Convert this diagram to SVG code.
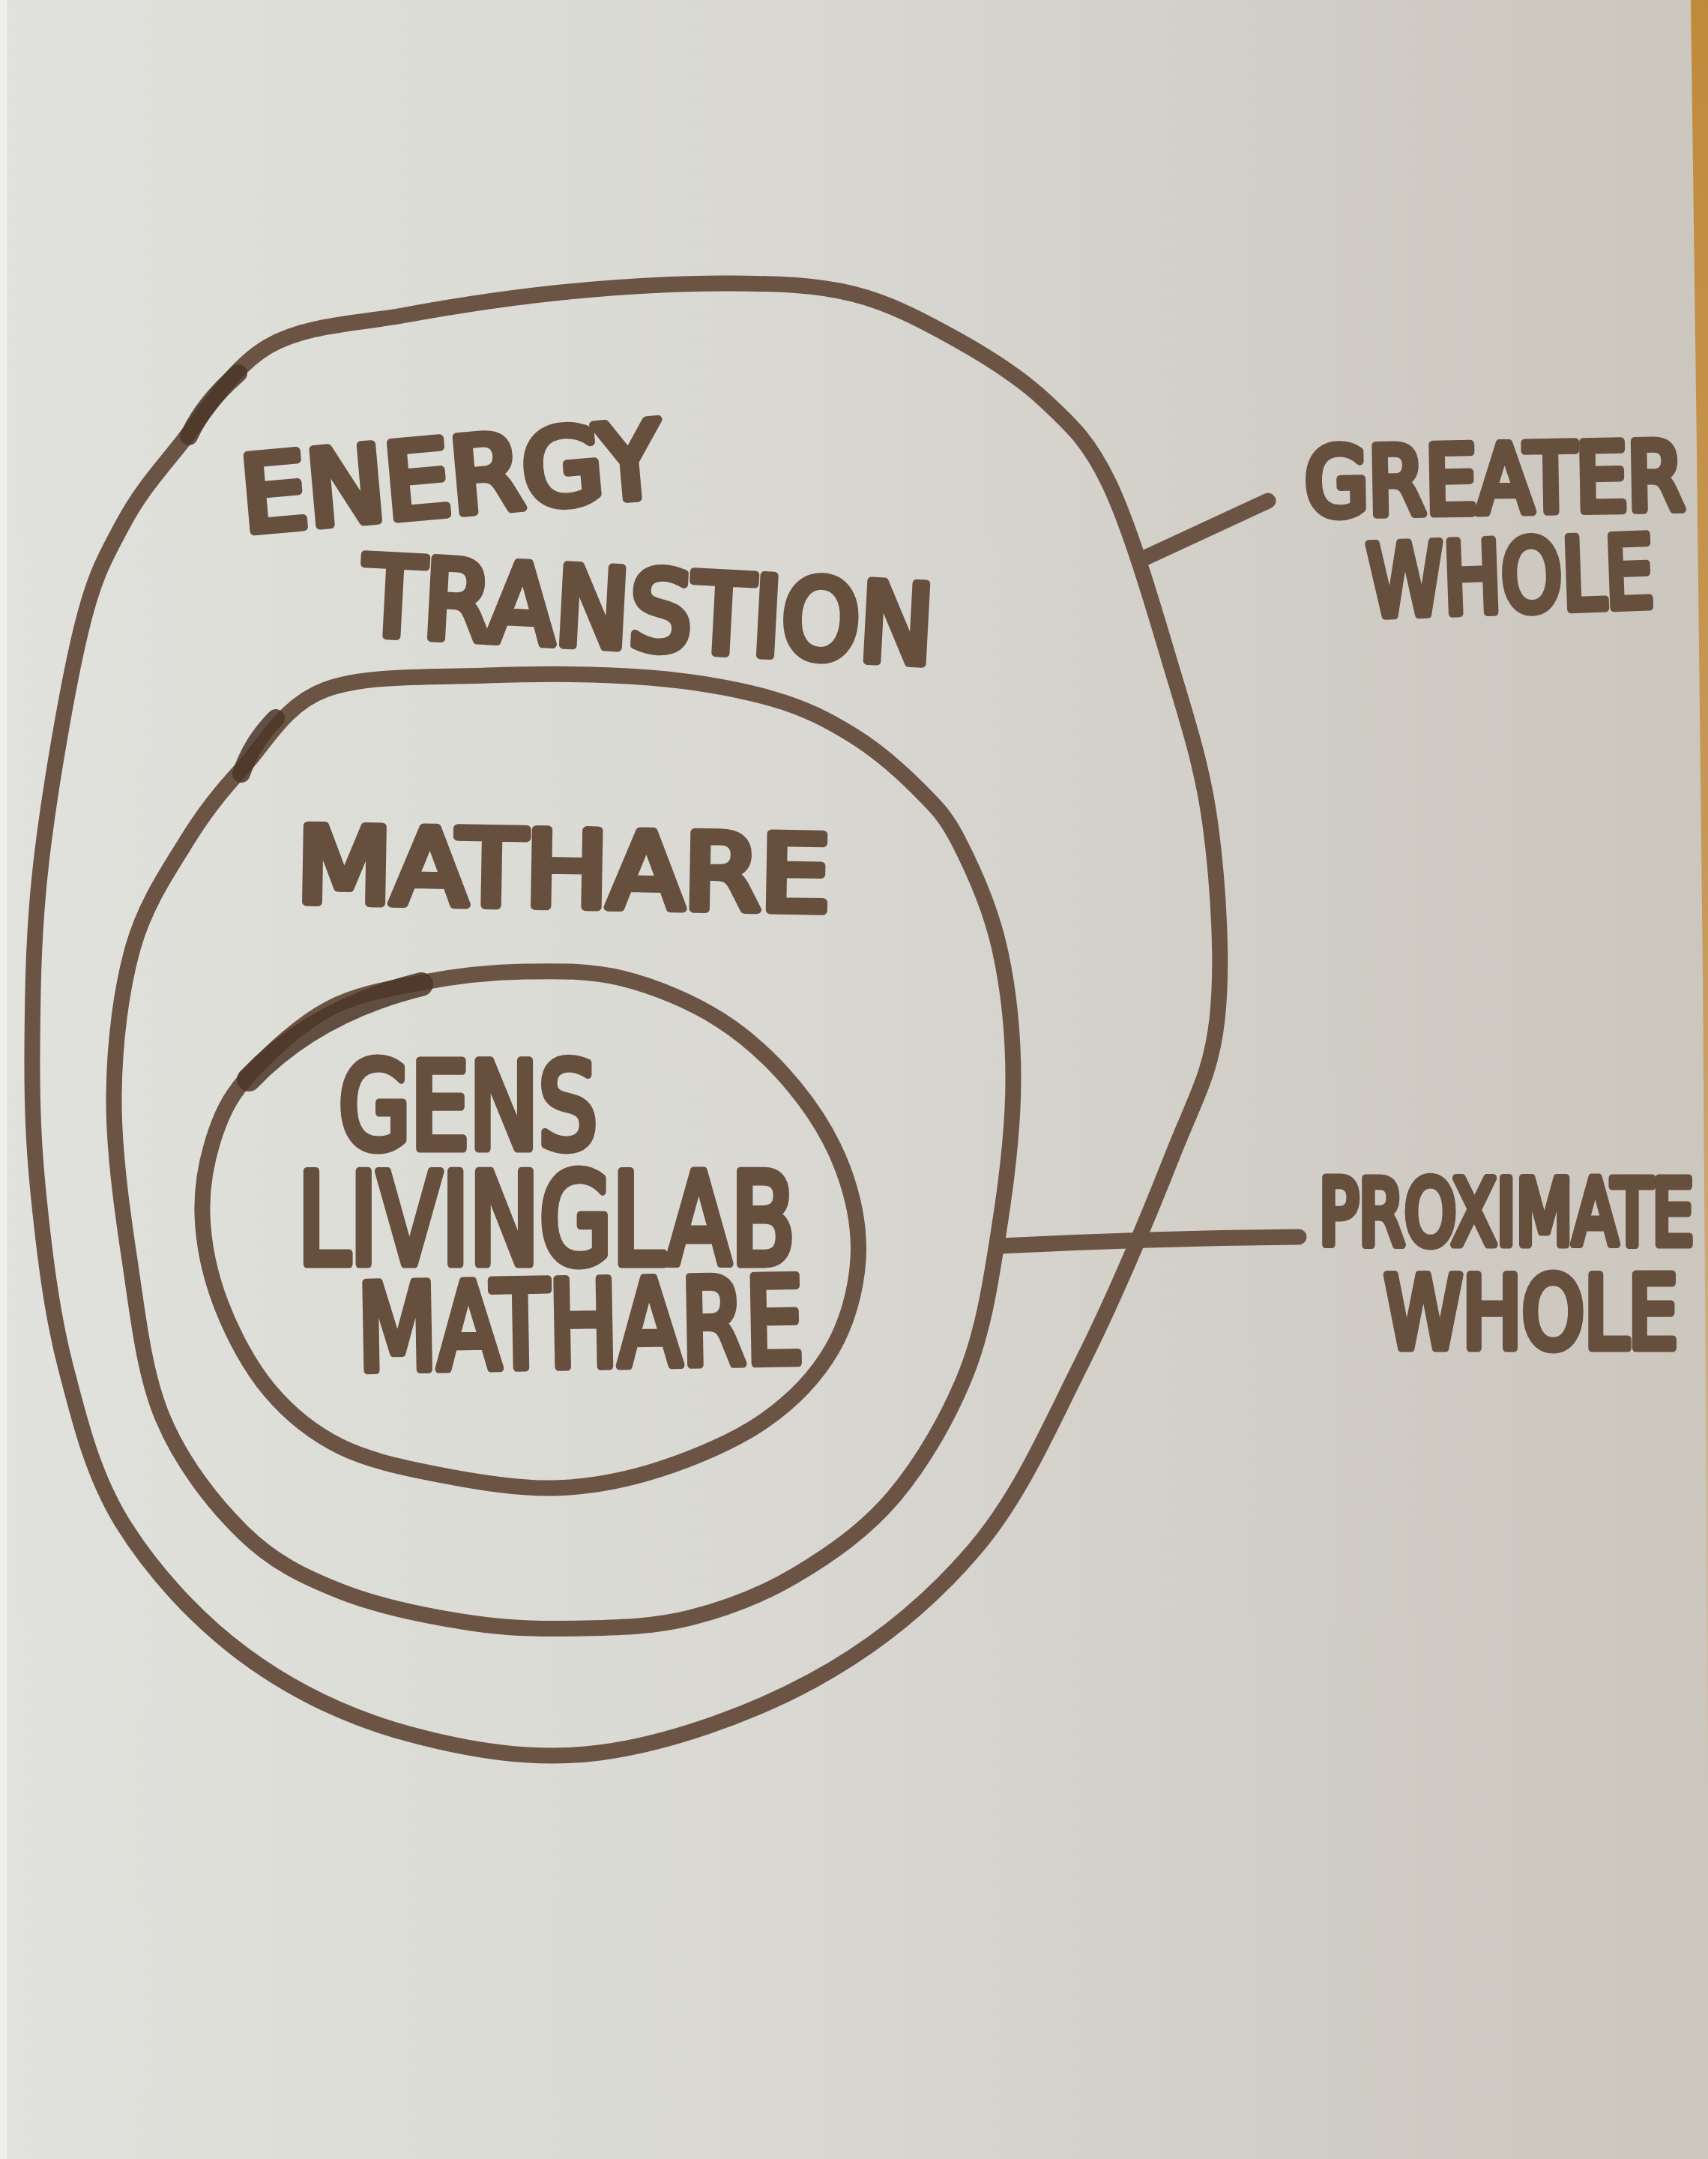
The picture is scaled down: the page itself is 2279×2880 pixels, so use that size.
<svg xmlns="http://www.w3.org/2000/svg" width="2279" height="2880" viewBox="0 0 2279 2880">
<defs>
<linearGradient id="paper" x1="0" y1="0" x2="1" y2="0">
<stop offset="0" stop-color="#e1e2dd"/>
<stop offset="0.45" stop-color="#d9d8d2"/>
<stop offset="1" stop-color="#cbc6be"/>
</linearGradient>
<linearGradient id="edge" x1="0" y1="0" x2="0" y2="1">
<stop offset="0" stop-color="#c08a3a"/>
<stop offset="0.5" stop-color="#c79a5c"/>
<stop offset="0.85" stop-color="#d2b890"/>
<stop offset="1" stop-color="#d0cbc2"/>
</linearGradient>
<style>
.ink{fill:none;stroke:#6c5444;stroke-width:21;stroke-linecap:round;stroke-linejoin:round}
.blob{fill:none;stroke:#4a3627;stroke-linecap:round;opacity:0.85}
.lbl{font-family:"DejaVu Sans Condensed","DejaVu Sans","Liberation Sans",sans-serif;font-weight:normal;fill:#674f3e;stroke:#674f3e;stroke-width:11;stroke-linejoin:round;stroke-linecap:round}
</style>
</defs>
<rect x="0" y="0" width="2279" height="2880" fill="url(#paper)"/>
<rect x="0" y="0" width="9" height="2880" fill="#eeefec"/>
<polygon points="2256,0 2279,0 2279,2500 2277,2000 2272,1300 2264,600" fill="url(#edge)"/>

<g id="energy-transition">
<path class="ink" d="M 238 596 C 270.5 556.2 307.3 491.3 358 462 S 475.2 432.2 542 420 S 686.7 396 759 389 S 912.8 377.5 976 378 S 1088.2 379.7 1138 392 S 1232.2 428.2 1275 452 S 1360.8 502.8 1395 535 S 1452.5 587.5 1480 645 S 1537.5 804.2 1560 880 S 1604.3 1020 1615 1100 S 1632.3 1286.7 1624 1360 S 1595.3 1463.2 1565 1540 S 1486 1733.3 1442 1821 S 1360.7 1995.8 1301 2066 S 1167.5 2196.7 1084 2242 S 890.3 2326.3 800 2338 S 621.2 2333.8 542 2312 S 388.2 2253.8 325 2207 S 202.7 2095.3 163 2031 S 105.5 1892.8 87 1821 S 59.3 1670.2 52 1600 S 42.5 1475 43 1400 S 44.2 1243.2 55 1150 S 90 915.8 108 841 S 141.3 741.8 163 701 S 205.5 635.8 238 596 Z"/>
<path class="blob" stroke-width="24" d="M 252 582 Q 272 538 318 498"/>
<text class="lbl" x="326" y="710" font-size="140" textLength="562" lengthAdjust="spacingAndGlyphs" transform="rotate(-5 326 710)">ENERGY</text>
<text class="lbl" x="482" y="846" font-size="146" textLength="762" lengthAdjust="spacingAndGlyphs" transform="rotate(3 482 846)">TRANSTION</text>
</g>

<g id="mathare">
<path class="ink" d="M 325 1023 C 355.8 989.3 379.8 940.3 434 920 S 577.8 903.7 650 901 S 803.7 898.8 867 904 S 984.8 919.2 1030 932 S 1105.5 961 1138 981 S 1201.5 1028.5 1225 1052 S 1261 1087 1279 1122 S 1320.8 1209 1333 1262 S 1352 1377 1352 1440 S 1343.3 1575 1333 1640 S 1313.3 1770.7 1290 1830 S 1231 1950.8 1193 1996 S 1107.3 2074 1062 2101 S 967.8 2146.2 921 2158 S 829.7 2170.8 781 2172 S 683.3 2173.2 629 2165 S 505.7 2143 455 2123 S 364.7 2083.7 325 2045 S 242.3 1951.7 217 1891 S 183.8 1752.8 173 1681 S 151.2 1529.8 152 1460 S 161.8 1318.3 178 1262 S 224.5 1161.8 249 1122 S 294.2 1056.7 325 1023 Z"/>
<path class="blob" stroke-width="24" d="M 322 1032 Q 336 990 368 958"/>
<text class="lbl" x="395" y="1203" font-size="140" textLength="712" lengthAdjust="spacingAndGlyphs" transform="rotate(1 395 1203)">MATHARE</text>
</g>

<g id="gens-livinglab-mathare">
<path class="ink" d="M 336 1430 C 361.3 1402.5 401.7 1365 440 1345 S 522.7 1318.2 566 1310 S 656 1296.8 700 1296 S 786.7 1294.3 830 1305 S 921.7 1335.8 960 1360 S 1032.5 1416.7 1060 1450 S 1110.8 1521.7 1125 1560 S 1147.5 1640 1145 1680 S 1130.8 1764.2 1110 1800 S 1058.3 1868.3 1020 1895 S 926.7 1945 880 1960 S 788.3 1983.7 740 1985 S 637.5 1977.2 590 1968 S 493.3 1948.8 455 1930 S 386.7 1886.7 360 1855 S 310 1779.2 295 1740 S 271.2 1658.3 270 1620 S 277 1541.7 288 1510 S 310.7 1457.5 336 1430 Z"/>
<path class="blob" stroke-width="32" d="M 332 1440 Q 420 1348 562 1313"/>
<text class="lbl" x="452" y="1532" font-size="160" textLength="345" lengthAdjust="spacingAndGlyphs">GENS</text>
<text class="lbl" x="397" y="1686" font-size="170" textLength="664" lengthAdjust="spacingAndGlyphs">LIVINGLAB</text>
<text class="lbl" x="478" y="1828" font-size="160" textLength="595" lengthAdjust="spacingAndGlyphs" transform="rotate(-1 478 1828)">MATHARE</text>
</g>

<g id="greater-whole">
<text class="lbl" x="1742" y="688" font-size="126" textLength="506" lengthAdjust="spacingAndGlyphs" transform="rotate(-1 1742 688)">GREATER</text>
<text class="lbl" x="1826" y="822" font-size="132" textLength="382" lengthAdjust="spacingAndGlyphs" transform="rotate(-2 1826 822)">WHOLE</text>
</g>

<g id="proximate-whole">
<text class="lbl" x="1760" y="1660" font-size="122" textLength="500" lengthAdjust="spacingAndGlyphs">PROXIMATE</text>
<text class="lbl" x="1847" y="1798" font-size="134" textLength="392" lengthAdjust="spacingAndGlyphs">WHOLE</text>
</g>

<g id="connectors">
<path class="ink" d="M 1526 745 L 1692 668"/>
<path class="ink" d="M 1335 1662 Q 1530 1652 1733 1650"/>
</g>
</svg>
